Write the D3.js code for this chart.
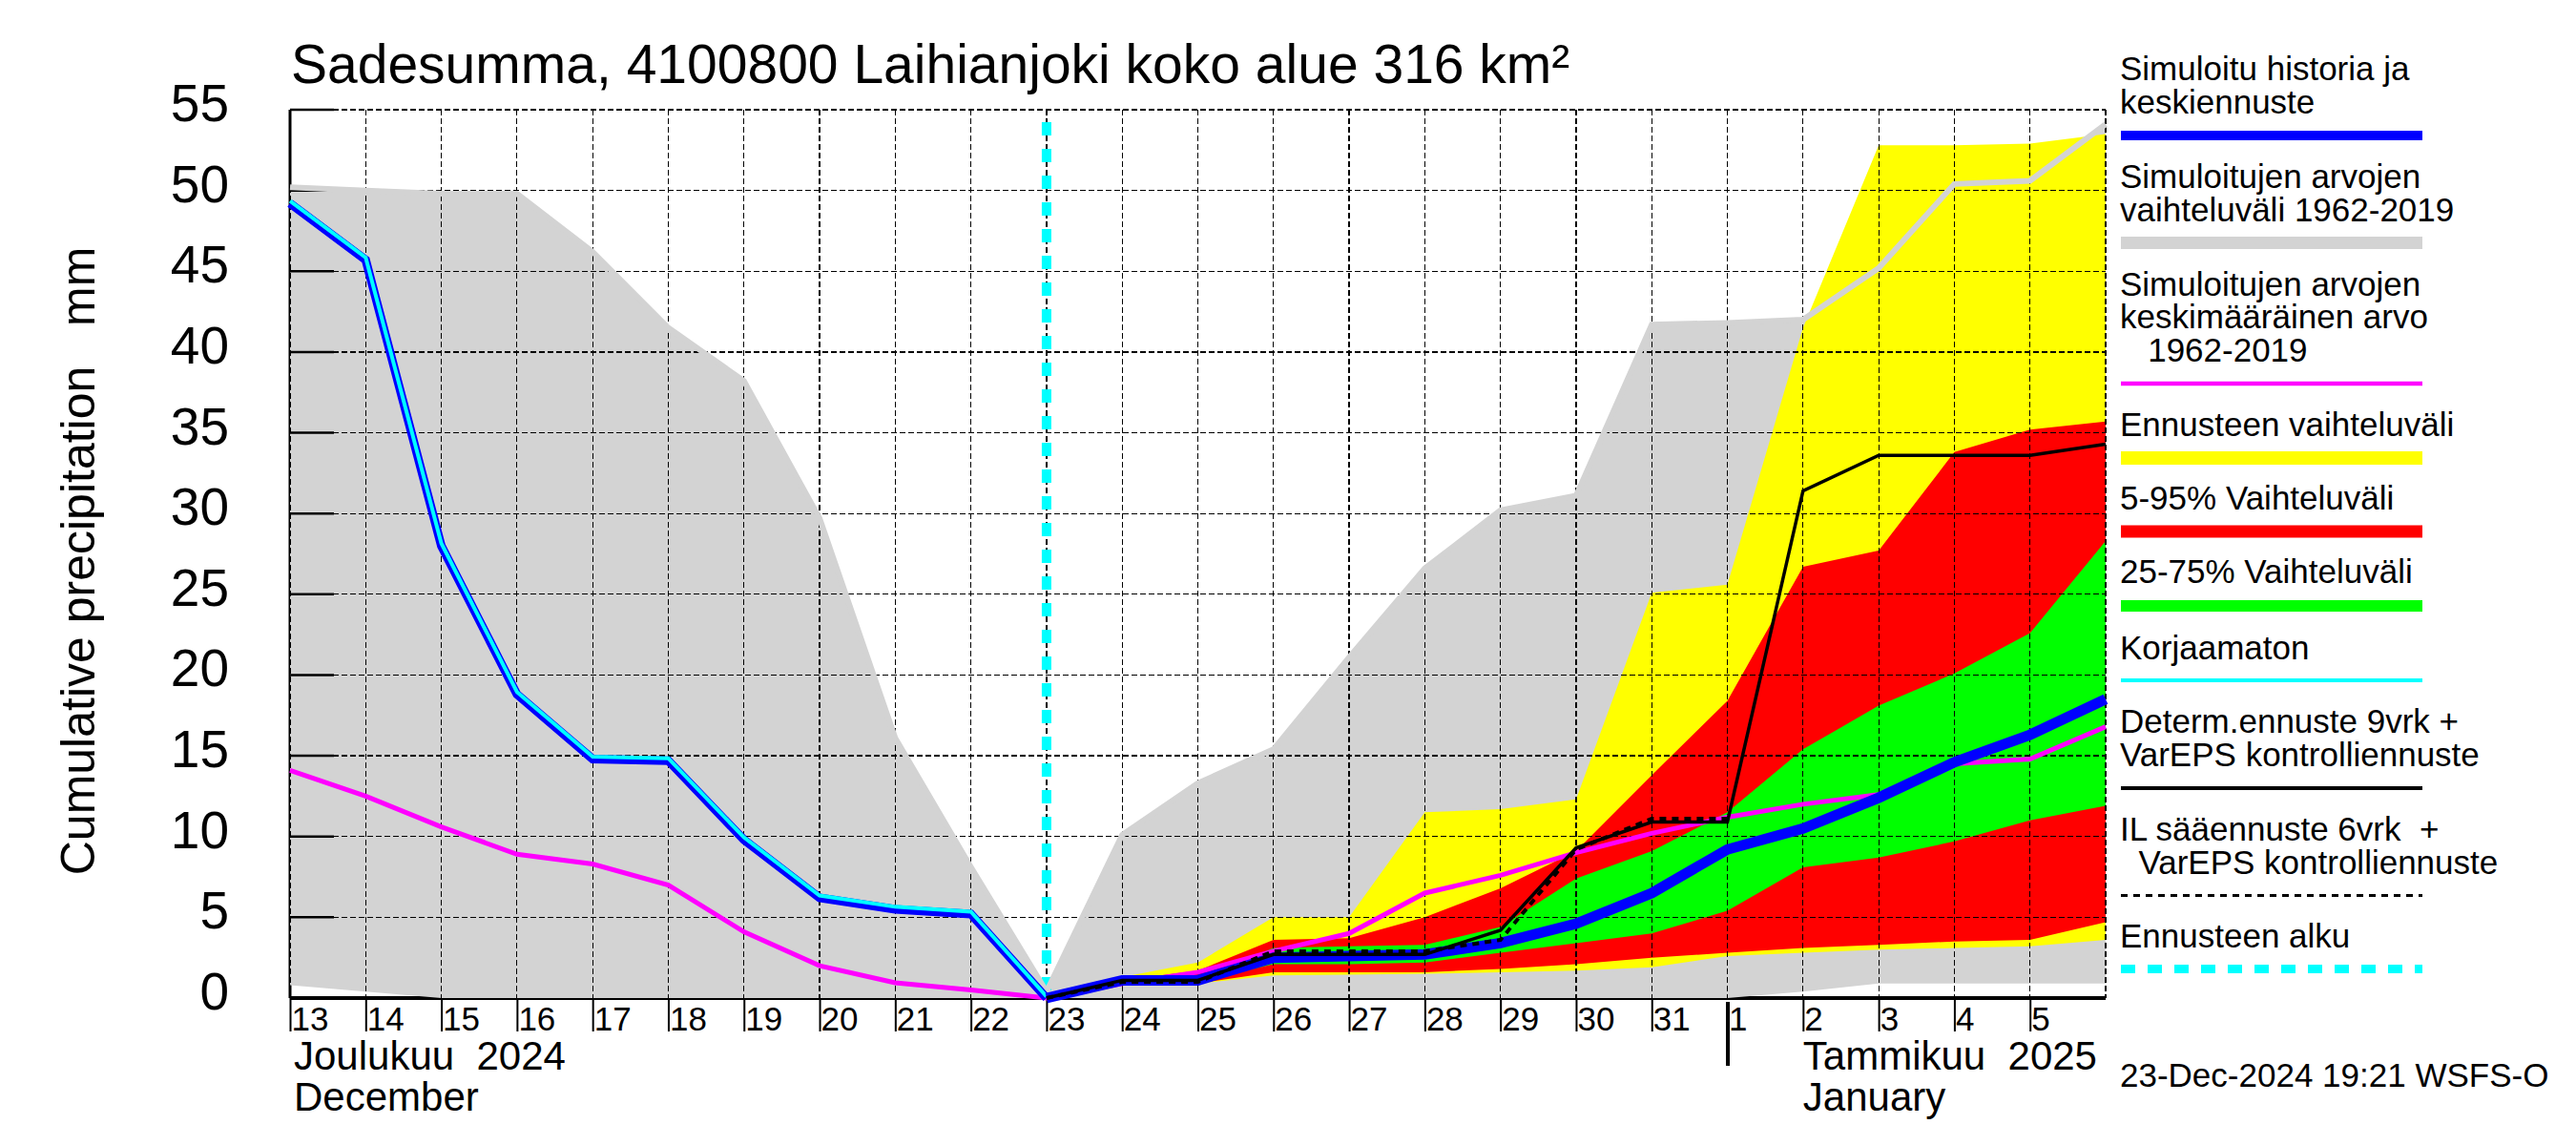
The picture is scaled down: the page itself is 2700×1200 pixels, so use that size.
<!DOCTYPE html>
<meta charset="utf-8">
<title>Sadesumma 4100800 Laihianjoki</title>
<script src="https://cdn.jsdelivr.net/npm/d3@7"></script>
<style>
  body { margin: 0; background: #fff; }
  text { font-family: "Liberation Sans", Arial, Helvetica, sans-serif; fill: #000; }
</style>
<body>
<script>

var svg_w = 2700
   ,svg_h = 1200;

// days: 13.12.2024 ... 6.1.2025, forecast starts 23.12.
var day0 = new Date(2024, 11, 13)
   ,dayN = new Date(2025, 0, 6)
   ,fcDay = new Date(2024, 11, 23)
   ,newYear = new Date(2025, 0, 1);
var allDays = d3.timeDay.range(day0, d3.timeDay.offset(dayN, 1));   // 25 days
var histDays = allDays.slice(0, 11);                                 // 13.12 - 23.12
var fcDays = allDays.slice(10);                                      // 23.12 - 6.1
var ilDays = allDays.slice(10, 20);                                  // 23.12 - 1.1

// simulated history (blue) and uncorrected (cyan)
var simHist  = [49.2, 45.7, 28.0, 18.8, 14.8, 14.7, 9.8, 6.2, 5.5, 5.2, 0.0];
var korjHist = [49.35, 45.85, 28.15, 18.95, 14.95, 14.85, 9.95, 6.35, 5.65, 5.35, 0.1];
// mean forecast (blue)
var simFc    = [0.0, 1.1, 1.1, 2.5, 2.6, 2.7, 3.4, 4.6, 6.5, 9.2, 10.5, 12.4, 14.6, 16.3, 18.5];
// climatological mean 1962-2019 (magenta)
var climMean = [14.1, 12.5, 10.6, 8.9, 8.3, 7.0, 4.1, 2.0, 0.95, 0.5, 0.0,
                0.9, 1.6, 2.9, 4.0, 6.5, 7.6, 9.0, 10.2, 11.2, 12.0, 12.6, 14.5, 14.8, 16.8];
// climatological range 1962-2019 (gray)
var climMax  = [50.2, 50.0, 49.8, 49.8, 46.2, 41.5, 38.2, 29.7, 16.1, 8.1, 0.4,
                10.1, 13.3, 15.4, 21.1, 26.6, 30.2, 31.1, 41.7, 41.8, 42.0, 45.2, 50.4, 50.6, 54.1];
var climMin  = [0.8, 0.4, 0.0, 0.0, 0.0, 0.0, 0.0, 0.0, 0.0, 0.0, 0.0,
                0.0, 0.0, 0.0, 0.0, 0.0, 0.0, 0.0, 0.0, 0.0, 0.4, 0.9, 0.9, 0.9, 0.9];
// forecast ranges
var ensMax   = [0.0, 1.3, 2.2, 5.0, 5.0, 11.5, 11.7, 12.3, 25.1, 25.6, 41.5, 52.8, 52.8, 52.9, 53.5];
var ensMin   = [0.0, 0.8, 0.9, 1.4, 1.45, 1.5, 1.6, 1.7, 1.9, 2.6, 2.8, 3.0, 3.1, 3.2, 3.6];
var p95      = [0.0, 1.1, 1.7, 3.6, 3.7, 5.0, 6.8, 9.1, 13.8, 18.4, 26.7, 27.7, 33.8, 35.2, 35.7];
var p05      = [0.0, 0.8, 0.9, 1.6, 1.6, 1.6, 1.8, 2.1, 2.5, 2.8, 3.1, 3.3, 3.5, 3.6, 4.7];
var p75      = [0.0, 1.0, 1.2, 3.1, 3.2, 3.3, 4.4, 7.4, 9.1, 11.5, 15.4, 18.1, 20.1, 22.6, 28.3];
var p25      = [0.0, 0.9, 1.0, 2.1, 2.1, 2.2, 2.8, 3.4, 4.0, 5.4, 8.1, 8.7, 9.7, 11.0, 11.9];
// deterministic 9 d + VarEPS control (black) and IL 6 d + VarEPS control (dashed)
var determ   = [0.0, 1.1, 1.1, 2.7, 2.7, 2.7, 4.2, 9.3, 10.9, 10.9, 31.4, 33.6, 33.6, 33.6, 34.3];
var ilFc     = [0.0, 1.0, 1.0, 2.9, 2.9, 2.9, 3.6, 9.2, 11.1, 11.1];

var yTicks = d3.range(0, 56, 5);

var titleText = "Sadesumma, 4100800 Laihianjoki koko alue 316 km\u00B2";
var yLabel = "Cumulative precipitation   mm";
var monthLabels = [["Joulukuu  2024", "December"], ["Tammikuu  2025", "January"]];
var stamp = "23-Dec-2024 19:21 WSFS-O";

var legendLabels = [
  ["Simuloitu historia ja", "keskiennuste"],
  ["Simuloitujen arvojen", "vaihteluv\u00E4li 1962-2019"],
  ["Simuloitujen arvojen", "keskim\u00E4\u00E4r\u00E4inen arvo", "   1962-2019"],
  ["Ennusteen vaihteluv\u00E4li"],
  ["5-95% Vaihteluv\u00E4li"],
  ["25-75% Vaihteluv\u00E4li"],
  ["Korjaamaton"],
  ["Determ.ennuste 9vrk +", "VarEPS kontrolliennuste"],
  ["IL s\u00E4\u00E4ennuste 6vrk  +", "  VarEPS kontrolliennuste"],
  ["Ennusteen alku"]
];

var svg = d3.select("body").append("svg")
            .attr("width", svg_w)
            .attr("height", svg_h);

var x = d3.scaleTime().domain([day0, dayN]).range([304, 2207]);
var y = d3.scaleLinear().domain([0, 55]).range([1046, 115]);

// frame (lies under the fills)
svg.append("line").attr("x1", 304).attr("x2", 304).attr("y1", y(55)).attr("y2", y(0))
   .attr("stroke", "#000").attr("stroke-width", 3);
svg.append("line").attr("x1", 304).attr("x2", 2207).attr("y1", y(0)).attr("y2", y(0))
   .attr("stroke", "#000").attr("stroke-width", 4);

var band = function(days, lo, hi) {
  return d3.area()
    .x(function (d, i) { return x(days[i]) })
    .y0(function (d, i) { return y(lo[i]) })
    .y1(function (d, i) { return y(hi[i]) })(days);
};
var line = function(days, vals) {
  return d3.line()
    .x(function (d, i) { return x(days[i]) })
    .y(function (d, i) { return y(vals[i]) })(days);
};

svg.append("path").attr("d", band(allDays, climMin, climMax)).attr("fill", "#d3d3d3");
svg.append("path").attr("d", band(fcDays, ensMin, ensMax)).attr("fill", "#ffff00");
svg.append("path").attr("d", band(fcDays, p05, p95)).attr("fill", "#ff0000");
svg.append("path").attr("d", band(fcDays, p25, p75)).attr("fill", "#00ff00");

// dashed grid
var grid = svg.append("g").attr("stroke", "#000").attr("stroke-width", 1.2)
              .attr("stroke-dasharray", "6,3").attr("shape-rendering", "crispEdges");
grid.selectAll(".gx").data(allDays).enter().append("line")
  .attr("x1", function (d) { return x(d) }).attr("x2", function (d) { return x(d) })
  .attr("y1", y(55)).attr("y2", y(0));
grid.selectAll(".gy").data(yTicks.slice(1)).enter().append("line")
  .attr("x1", x(day0)).attr("x2", x(dayN))
  .attr("y1", function (d) { return y(d) }).attr("y2", function (d) { return y(d) });

// y ticks, inward
svg.append("g").selectAll("line").data(yTicks).enter().append("line")
  .attr("x1", 304).attr("x2", 350)
  .attr("y1", function (d) { return y(d) }).attr("y2", function (d) { return y(d) })
  .attr("stroke", "#000").attr("stroke-width", 2.5);

svg.append("g").selectAll("text").data(yTicks).enter().append("text")
  .attr("x", 240).attr("y", function (d) { return y(d) + 12 })
  .attr("text-anchor", "end").style("font-size", "55px")
  .text(function (d) { return d });

// x axis
var xAxis = d3.axisBottom(x)
  .tickValues(d3.timeDay.range(day0, dayN))
  .tickSize(35)
  .tickFormat(function (d) { return d.getDate() });
var gx = svg.append("g").attr("transform", "translate(0," + y(0) + ")").call(xAxis);
gx.select(".domain").remove();
gx.selectAll(".tick line").attr("stroke", "#000").attr("stroke-width", 2);
gx.selectAll(".tick text")
  .attr("text-anchor", "start").attr("x", 1).attr("y", 34).attr("dy", null)
  .attr("fill", "#000").style("font-size", "35px")
  .style("font-family", "'Liberation Sans', Arial, sans-serif");
gx.selectAll(".tick").filter(function (d) { return +d === +newYear })
  .select("line").attr("y1", 4).attr("y2", 71).attr("stroke-width", 4);

// month names
var monthX = [x(day0) + 4, x(d3.timeDay.offset(newYear, 1))];
monthLabels.forEach(function (lab, k) {
  svg.append("text").attr("x", monthX[k]).attr("y", 1121).style("font-size", "42px")
     .attr("xml:space", "preserve").style("white-space", "pre").text(lab[0]);
  svg.append("text").attr("x", monthX[k]).attr("y", 1164).style("font-size", "42px").text(lab[1]);
});

// forecast start
svg.append("line").attr("x1", x(fcDay)).attr("x2", x(fcDay)).attr("y1", y(55) + 13).attr("y2", y(0))
   .attr("stroke", "#00ffff").attr("stroke-width", 10).attr("stroke-dasharray", "14,14");

// series
svg.append("path").attr("d", line(allDays, climMax)).attr("fill", "none")
   .attr("stroke", "#d3d3d3").attr("stroke-width", 6);
svg.append("path").attr("d", line(allDays, climMean)).attr("fill", "none")
   .attr("stroke", "#ff00ff").attr("stroke-width", 5);
svg.append("path").attr("d", line(histDays, simHist)).attr("fill", "none")
   .attr("stroke", "#0000ff").attr("stroke-width", 9);
svg.append("path").attr("d", line(histDays, korjHist)).attr("fill", "none")
   .attr("stroke", "#00ffff").attr("stroke-width", 4);
svg.append("path").attr("d", line(fcDays, simFc)).attr("fill", "none")
   .attr("stroke", "#0000ff").attr("stroke-width", 11);
svg.append("path").attr("d", line(fcDays, determ)).attr("fill", "none")
   .attr("stroke", "#000").attr("stroke-width", 3.5);
svg.append("path").attr("d", line(ilDays, ilFc)).attr("fill", "none")
   .attr("stroke", "#000").attr("stroke-width", 4).attr("stroke-dasharray", "7,6");

// title and axis label
svg.append("text").attr("x", 305).attr("y", 87).style("font-size", "57px").text(titleText);
svg.append("text").attr("transform", "translate(99,588) rotate(-90)")
   .attr("text-anchor", "middle").style("font-size", "50px")
   .attr("xml:space", "preserve").style("white-space", "pre").text(yLabel);

// legend
var legendBase = [[84, 119], [197, 232], [310, 344, 379], [457], [534], [611], [691], [768, 803], [881, 916], [993]];
var legendLine = [
  {y: 142, c: "#0000ff", w: 10},
  {y: 254.5, c: "#d3d3d3", w: 13},
  {y: 402, c: "#ff00ff", w: 4.5},
  {y: 480, c: "#ffff00", w: 14},
  {y: 557, c: "#ff0000", w: 13},
  {y: 635, c: "#00ff00", w: 12},
  {y: 713, c: "#00ffff", w: 4},
  {y: 826, c: "#000", w: 4},
  {y: 938.5, c: "#000", w: 3, dash: "7,6"},
  {y: 1015.5, c: "#00ffff", w: 9, dash: "15,13"}
];
var lg = svg.append("g");
legendLabels.forEach(function (lines, k) {
  lines.forEach(function (s, j) {
    lg.append("text").attr("x", 2222).attr("y", legendBase[k][j]).style("font-size", "35px")
      .attr("xml:space", "preserve").style("white-space", "pre").text(s);
  });
  var L = legendLine[k];
  lg.append("line").attr("x1", 2223).attr("x2", 2539).attr("y1", L.y).attr("y2", L.y)
    .attr("stroke", L.c).attr("stroke-width", L.w)
    .attr("stroke-dasharray", L.dash || null);
});
svg.append("text").attr("x", 2222).attr("y", 1139).style("font-size", "35px").text(stamp);

</script>
